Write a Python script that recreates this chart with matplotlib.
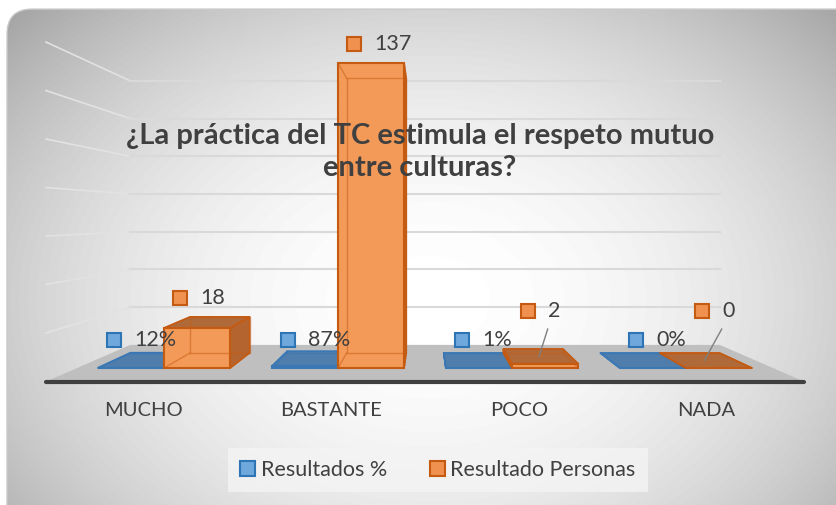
import numpy as np
import matplotlib.pyplot as plt
from matplotlib.patches import Polygon, FancyBboxPatch, Patch
from matplotlib import transforms

categorias = ['MUCHO', 'BASTANTE', 'POCO', 'NADA']
porcentajes = [0.12, 0.87, 0.01, 0.0]
personas = [18, 137, 2, 0]
etiquetas_pct = ['12%', '87%', '1%', '0%']
series = ['Resultados %', 'Resultado Personas']
titulo = '¿La práctica del TC estimula el respeto mutuo\nentre culturas?'
y_max, y_step = 140, 20

plt.rcParams['font.family'] = ['Lato', 'DejaVu Sans']

# perspectiva simple: todo se proyecta hacia un punto de fuga
VX, VY = 1.5, 68.0
S_BAR, S_WALL, S_FLOOR, S_LABEL = 0.9, 0.847, 1.089, 1.077
ANCHO = 0.38
GRIS = '#404040'


def proj(x, y, s):
    return VX + (x - VX) * s, VY + (y - VY) * s


fig = plt.figure(figsize=(8.36, 5.05), dpi=100)
ax = fig.add_axes([0, 0, 1, 1])
ax.set_xlim(-0.9425, 3.862)
ax.set_ylim(-61.5, 165.3)
ax.axis('off')

# fondo con degradado radial y esquinas redondeadas
h, w = 505, 836
yy, xx = np.mgrid[0:h, 0:w]
r2 = ((xx - 430) / 450.0) ** 2 + ((yy - 300) / 330.0) ** 2
fondo = 1 - 0.22 * r2
img = ax.imshow(fondo, cmap='gray', vmin=0, vmax=1, aspect='auto',
                extent=(*ax.get_xlim(), *ax.get_ylim()), zorder=0)
caja = FancyBboxPatch((0.0084, -0.05), 1.05, 1.032,
                      boxstyle='round,pad=0,rounding_size=0.03',
                      mutation_aspect=836 / 505, transform=ax.transAxes,
                      fc='none', ec='#C9C9C9', lw=1.0, zorder=0.5)
ax.add_patch(caja)
img.set_clip_path(caja)

# lineas de division (pared del fondo y pared izquierda)
for v in range(y_step, y_max + 1, y_step):
    xa, ya = proj(-0.5, v, S_WALL)
    xb, yb = proj(3.5, v, S_WALL)
    xc, yc = proj(-0.5, v, S_FLOOR)
    ax.plot([xc, xa], [yc, ya], color='#E2E2E2', lw=1.2, zorder=1)
    ax.plot([xa, xb], [ya, yb], color='#D9D9D9', lw=1.5, zorder=1)

# suelo
esq = [proj(-0.5, 0, S_WALL), proj(3.5, 0, S_WALL),
       proj(3.5, 0, S_FLOOR), proj(-0.5, 0, S_FLOOR)]
ax.add_patch(Polygon(esq, closed=True, fc='#BFBFBF', ec='none', zorder=2))
ax.plot([esq[3][0], esq[2][0]], [esq[3][1], esq[2][1]], color=GRIS, lw=3,
        solid_capstyle='round', zorder=2)


def barra3d(x0, x1, v, frente, arriba, lado, borde, z):
    f = [(x0, 0), (x1, 0), (x1, v), (x0, v)]
    b = [proj(x, y, S_BAR) for x, y in f]
    caras = []
    if x1 < VX:
        caras.append([f[1], f[2], b[2], b[1]])
    if x0 > VX:
        caras.append([f[0], f[3], b[3], b[0]])
    for c in caras:
        ax.add_patch(Polygon(c, closed=True, fc=lado, ec=borde, lw=1.2, zorder=z))
    if v < VY:
        ax.add_patch(Polygon([f[3], f[2], b[2], b[3]], closed=True, fc=arriba,
                             ec=borde, lw=1.2, zorder=z))
    ax.add_patch(Polygon(f, closed=True, fc=frente, ec=borde, lw=1.5, zorder=z + 0.1))
    # aristas traseras que se ven por la transparencia
    for k in range(4):
        ax.plot([f[k][0], b[k][0]], [f[k][1], b[k][1]], color=borde, lw=1,
                alpha=0.5, zorder=z + 0.2)
    bx, by = zip(*(b + [b[0]]))
    ax.plot(bx, by, color=borde, lw=1, alpha=0.5, zorder=z + 0.2)


for i in range(len(categorias)):
    barra3d(i - ANCHO, i, porcentajes[i], '#6FA2D6', '#4F7EAC', '#4A76A0', '#3A78B5', 3)
    barra3d(i, i + ANCHO, personas[i], '#F39A58', '#B06A3A', '#B4652F', '#C55A11', 4)

# etiquetas de datos: cuadrito de la serie + valor
px = lambda d: transforms.offset_copy(ax.transData, fig=fig, x=d, y=0, units='dots')


def etiqueta(cx, ly, texto, fc, ec):
    ax.plot([cx], [ly], marker='s', ms=9.5, mfc=fc, mec=ec, mew=1.5,
            transform=px(-17), zorder=6)
    ax.text(cx, ly, texto, transform=px(3), ha='left', va='center',
            fontsize=15.5, color=GRIS, zorder=6)


for i in range(len(categorias)):
    cx = i - ANCHO / 2
    top = max(porcentajes[i], VY + (porcentajes[i] - VY) * S_BAR)
    etiqueta(cx, max(top, 7.6) + 5, etiquetas_pct[i], '#6FA8DC', '#2E75B6')

    cx = i + ANCHO / 2
    v = personas[i]
    top = max(v, VY + (v - VY) * S_BAR)
    ly = max(top, 17.0) + 8.5
    etiqueta(cx, ly, str(v), '#F0914F', '#C55A11')
    if ly - top > 12:
        bx, by = proj(cx, v, (1 + S_BAR) / 2)
        ax.plot([cx + 0.015, bx], [ly - 8, by], color='#7F7F7F', lw=1, zorder=6)

# categorias
tr = transforms.blended_transform_factory(ax.transData, ax.transAxes)
for i, c in enumerate(categorias):
    ax.text(proj(i, 0, S_LABEL)[0], 1 - 411 / 505, c, transform=tr,
            ha='center', va='center', fontsize=14.5, color=GRIS, zorder=6)

ax.text(420 / 836, 1 - 152 / 505, titulo, transform=ax.transAxes, ha='center',
        va='center', fontsize=21, fontweight='bold', color=GRIS,
        linespacing=1.25, zorder=7)

handles = [Patch(fc='#6FA8DC', ec='#2E75B6', lw=1.5),
           Patch(fc='#F0914F', ec='#C55A11', lw=1.5)]
leg = ax.legend(handles, series, loc='center', ncol=2,
                bbox_to_anchor=(438 / 836, 1 - 470 / 505), fontsize=15.5,
                handlelength=0.7, handleheight=0.7, handletextpad=0.25,
                columnspacing=2.0, fancybox=False, borderpad=0.55, frameon=True)
leg.get_frame().set_facecolor('#F4F4F4')
leg.get_frame().set_edgecolor('none')
for t in leg.get_texts():
    t.set_color(GRIS)

fig.savefig('out.png', dpi=100, facecolor='white')
